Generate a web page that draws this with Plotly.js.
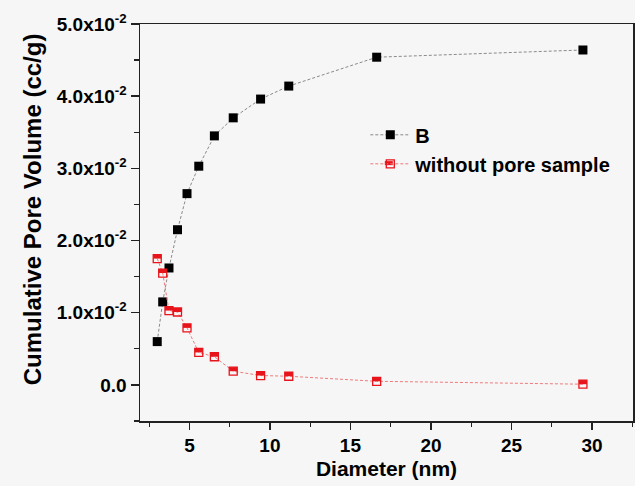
<!DOCTYPE html>
<html>
<head>
<meta charset="utf-8">
<script src="https://cdn.plot.ly/plotly-3.0.1.min.js"></script>
<style>
  html, body { margin: 0; padding: 0; background: #f6f6f6; }
  #chart { width: 635px; height: 486px; }
</style>
</head>
<body>
<div id="chart"></div>
<script>
// Pore diameter (nm) shared by both samples
const diameter = [3.0, 3.34, 3.73, 4.26, 4.85, 5.58, 6.55, 7.72, 9.42, 11.17, 16.63, 29.44];

// Cumulative pore volume (cc/g)
const volumeB = [0.0060, 0.0115, 0.0162, 0.0215, 0.0265, 0.0303, 0.0345, 0.0370, 0.0396, 0.0414, 0.0454, 0.0464];
const volumeNoPore = [0.0175, 0.0155, 0.0103, 0.0101, 0.0079, 0.0045, 0.0039, 0.0019, 0.0013, 0.0012, 0.0005, 0.0001];

const seriesNames = ['B', 'without pore sample'];

// y tick labels in scientific form
const yTickVals = [0, 0.01, 0.02, 0.03, 0.04, 0.05];
const yTickText = ['0.0', '1.0x10<sup>-2</sup>', '2.0x10<sup>-2</sup>', '3.0x10<sup>-2</sup>', '4.0x10<sup>-2</sup>', '5.0x10<sup>-2</sup>'];

const yTitle = 'Cumulative Pore Volume (cc/g)';
const xTitle = 'Diameter (nm)';

const FONT = 'Liberation Sans, Arial, sans-serif';
const RED = '#e8141b';

const traces = [
  {
    x: diameter, y: volumeB, name: seriesNames[0],
    type: 'scatter', mode: 'lines+markers',
    line: { color: '#8a8a8a', width: 1, dash: '3px,2px' },
    marker: { symbol: 'square', size: 9, color: '#000000' }
  },
  {
    x: diameter, y: volumeNoPore, name: seriesNames[1],
    type: 'scatter', mode: 'lines+markers',
    line: { color: '#ef7b7b', width: 1, dash: '3px,2px' },
    marker: { symbol: 'square-open', size: 8, color: RED, line: { width: 1.3, color: RED } }
  }
];

// Half-filled square: upper half of an open red square, drawn as a pixel-sized rect
function upperHalf(xref, yref, xa, ya) {
  return {
    type: 'rect', xref: xref, yref: yref,
    xsizemode: 'pixel', ysizemode: 'pixel',
    xanchor: xa, yanchor: ya,
    x0: -4, x1: 4, y0: 0, y1: 4,
    fillcolor: RED, line: { width: 0 }
  };
}

const legendPos = { x: 0.457, y: 0.77 };

const shapes = diameter.map((d, i) => upperHalf('x', 'y', d, volumeNoPore[i]));
// same fill on the legend symbol of the red series
shapes.push(upperHalf('paper', 'paper', 0.5047, 0.6445));

const layout = {
  width: 635, height: 486,
  margin: { l: 140, r: 2, t: 24, b: 65 },
  paper_bgcolor: '#f6f6f6',
  plot_bgcolor: '#f6f6f6',
  font: { family: FONT, color: '#000000' },
  showlegend: true,
  legend: {
    x: legendPos.x, y: legendPos.y, xanchor: 'left', yanchor: 'top',
    bgcolor: 'rgba(0,0,0,0)', itemwidth: 40,
    font: { family: FONT, size: 20, weight: 'bold', color: '#000' }
  },
  xaxis: {
    range: [1.93, 32.55],
    showgrid: false, zeroline: false,
    showline: true, linecolor: '#222', linewidth: 1.5, mirror: true,
    ticks: 'outside', ticklen: 7, tickwidth: 1.5, tickcolor: '#222',
    dtick: 5, tick0: 0,
    minor: { dtick: 2.5, tick0: 0, ticks: 'outside', ticklen: 4, tickwidth: 1.2, tickcolor: '#222' },
    tickfont: { family: FONT, size: 19, weight: 'bold' },
    title: { text: xTitle, font: { family: FONT, size: 21, weight: 'bold' }, standoff: 6 }
  },
  yaxis: {
    range: [-0.005, 0.05],
    showgrid: false, zeroline: false,
    showline: true, linecolor: '#222', linewidth: 1.5, mirror: true,
    ticks: 'outside', ticklen: 8, tickwidth: 1.5, tickcolor: '#222',
    tickvals: yTickVals, ticktext: yTickText,
    minor: { dtick: 0.005, tick0: 0, ticks: 'outside', ticklen: 5, tickwidth: 1.2, tickcolor: '#222' },
    tickfont: { family: FONT, size: 19, weight: 'bold' }
  },
  // y-axis title, placed a little above the axis centre
  annotations: [{
    text: yTitle, textangle: -90, showarrow: false,
    xref: 'paper', yref: 'paper', x: -0.2186, y: 0.534,
    xanchor: 'center', yanchor: 'middle',
    font: { family: FONT, size: 24, weight: 'bold', color: '#000' }
  }],
  shapes: shapes
};

Plotly.newPlot('chart', traces, layout, { displayModeBar: false, staticPlot: true });
</script>
</body>
</html>
